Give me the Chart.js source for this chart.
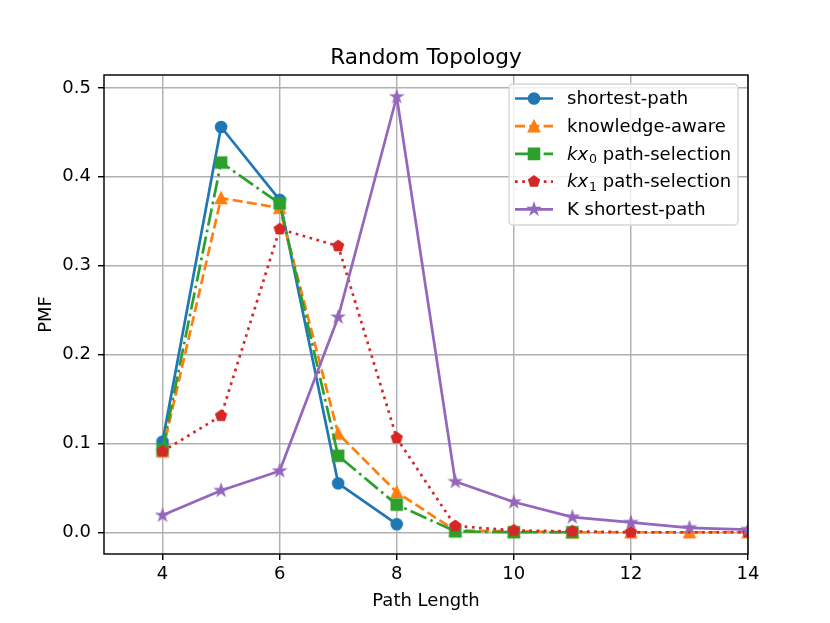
<!DOCTYPE html>
<html>
<head>
<meta charset="utf-8">
<title>Random Topology</title>
<script src="https://cdn.jsdelivr.net/npm/chart.js@4.4.1/dist/chart.umd.min.js"></script>
<style>
  html, body { margin: 0; padding: 0; background: #fff; }
  #chart { display: block; }
</style>
</head>
<body>
<canvas id="chart" width="830" height="623"></canvas>
<script>
// Values
var pathLengths = [4, 5, 6, 7, 8, 9, 10, 11, 12, 13, 14];
var shortestPath = [0.102, 0.456, 0.374, 0.055, 0.009];
var knowledgeAware = [0.091, 0.376, 0.365, 0.111, 0.045, 0.002, 0.001, 0.0, 0.0, 0.0, 0.0];
var kx0Selection = [0.093, 0.416, 0.370, 0.086, 0.031, 0.001, 0.0, 0.0];
var kx1Lengths = [4, 5, 6, 7, 8, 9, 10, 11, 12, 14];
var kx1Selection = [0.091, 0.131, 0.341, 0.322, 0.106, 0.007, 0.002, 0.001, 0.0, 0.0];
var kShortestPath = [0.019, 0.047, 0.069, 0.242, 0.490, 0.057, 0.034, 0.017, 0.011, 0.005, 0.003];
var xTicks = [4, 6, 8, 10, 12, 14];
var yTicks = [0, 0.1, 0.2, 0.3, 0.4, 0.5];

var FONT = "'DejaVu Sans', 'Liberation Sans', sans-serif";
var MS = 10.8;   // marker size, px
var LW = 2.7;    // line width, px

function pairs(xs, ys) {
  return ys.map(function (v, i) { return { x: xs[i], y: v }; });
}

// marker shapes, drawn like matplotlib's o ^ s p *
function markerPath(ctx, shape, cx, cy) {
  var r = MS / 2;
  ctx.beginPath();
  if (shape === "circle") {
    ctx.arc(cx, cy, r, 0, Math.PI * 2);
  } else if (shape === "triangle") {
    ctx.moveTo(cx, cy - r);
    ctx.lineTo(cx - r, cy + r);
    ctx.lineTo(cx + r, cy + r);
    ctx.closePath();
  } else if (shape === "square") {
    ctx.rect(cx - r, cy - r, MS, MS);
  } else if (shape === "pentagon") {
    for (var i = 0; i < 5; i++) {
      var a = -Math.PI / 2 + i * 2 * Math.PI / 5;
      ctx.lineTo(cx + r * Math.cos(a), cy + r * Math.sin(a));
    }
    ctx.closePath();
  } else if (shape === "star") {
    for (var j = 0; j < 10; j++) {
      var b = -Math.PI / 2 + j * Math.PI / 5;
      var rr = j % 2 === 0 ? r : r * 0.381966;
      ctx.lineTo(cx + rr * Math.cos(b), cy + rr * Math.sin(b));
    }
    ctx.closePath();
  }
}

function drawMarker(ctx, shape, cx, cy, color) {
  ctx.save();
  markerPath(ctx, shape, cx, cy);
  ctx.fillStyle = color;
  ctx.fill();
  ctx.lineWidth = 1.8;
  ctx.lineJoin = "miter";
  ctx.strokeStyle = color;
  ctx.stroke();
  ctx.restore();
}

function markerImage(shape, color) {
  var c = document.createElement("canvas");
  c.width = 20;
  c.height = 20;
  drawMarker(c.getContext("2d"), shape, 10, 10, color);
  return c;
}

var seriesList = [
  { label: "shortest-path", xs: pathLengths, ys: shortestPath, color: "#1f77b4", shape: "circle", dash: [] },
  { label: "knowledge-aware", xs: pathLengths, ys: knowledgeAware, color: "#ff7f0e", shape: "triangle", dash: [10, 4.3] },
  { label: "kx0", xs: pathLengths, ys: kx0Selection, color: "#2ca02c", shape: "square", dash: [17.3, 4.3, 2.7, 4.3] },
  { label: "kx1", xs: kx1Lengths, ys: kx1Selection, color: "#d62728", shape: "pentagon", dash: [2.7, 4.5] },
  { label: "K shortest-path", xs: pathLengths, ys: kShortestPath, color: "#9467bd", shape: "star", dash: [] }
];

var datasets = seriesList.map(function (s, i) {
  return {
    label: s.label,
    data: pairs(s.xs, s.ys),
    borderColor: s.color,
    backgroundColor: s.color,
    borderWidth: LW,
    borderDash: s.dash,
    borderCapStyle: "butt",
    borderJoinStyle: "round",
    pointStyle: markerImage(s.shape, s.color),
    pointRadius: 6,
    pointHoverRadius: 6,
    tension: 0,
    clip: 0,
    order: seriesList.length - i
  };
});

// axes frame, title, axis labels and the legend
var decor = {
  id: "decor",
  afterDatasetsDraw: function (chart) {
    var ctx = chart.ctx;
    var a = chart.chartArea;
    ctx.save();
    ctx.strokeStyle = "#000";
    ctx.lineWidth = 1.44;
    ctx.strokeRect(a.left, a.top, a.right - a.left, a.bottom - a.top);

    ctx.fillStyle = "#000";
    ctx.textAlign = "center";
    ctx.textBaseline = "alphabetic";
    ctx.font = "21.6px " + FONT;
    ctx.fillText("Random Topology", (a.left + a.right) / 2, 63.5);
    ctx.font = "18px " + FONT;
    ctx.fillText("Path Length", (a.left + a.right) / 2, 606);
    ctx.translate(51, (a.top + a.bottom) / 2);
    ctx.rotate(-Math.PI / 2);
    ctx.fillText("PMF", 0, 0);
    ctx.restore();

    // legend
    var bx = 509, by = 84, bw = 229, bh = 141;
    ctx.save();
    ctx.beginPath();
    ctx.roundRect(bx, by, bw, bh, 4);
    ctx.fillStyle = "rgba(255,255,255,0.8)";
    ctx.fill();
    ctx.strokeStyle = "#d6d6d6";
    ctx.lineWidth = 1.44;
    ctx.stroke();
    seriesList.forEach(function (s, i) {
      var y = 98.5 + i * 27.7;
      ctx.save();
      ctx.beginPath();
      ctx.moveTo(515, y);
      ctx.lineTo(553, y);
      ctx.strokeStyle = s.color;
      ctx.lineWidth = LW;
      ctx.lineCap = "butt";
      ctx.setLineDash(s.dash);
      ctx.stroke();
      ctx.restore();
      drawMarker(ctx, s.shape, 534, y, s.color);

      ctx.fillStyle = "#000";
      ctx.textAlign = "left";
      ctx.textBaseline = "middle";
      var tx = 567;
      var ty = y + 1;
      if (s.label === "kx0" || s.label === "kx1") {
        ctx.font = "italic 18px " + FONT;
        ctx.fillText("kx", tx, ty);
        tx += ctx.measureText("kx").width;
        ctx.font = "12.6px " + FONT;
        ctx.fillText(s.label.slice(2), tx + 1, ty + 5);
        tx += ctx.measureText(s.label.slice(2)).width + 1;
        ctx.font = "18px " + FONT;
        ctx.fillText(" path-selection", tx, ty);
      } else {
        ctx.font = "18px " + FONT;
        ctx.fillText(s.label, tx, ty);
      }
    });
    ctx.restore();
  }
};

new Chart(document.getElementById("chart"), {
  type: "line",
  data: { datasets: datasets },
  options: {
    responsive: false,
    animation: false,
    events: [],
    layout: { padding: { top: 75, right: 82, left: 0, bottom: 0 } },
    plugins: {
      legend: { display: false },
      title: { display: false },
      tooltip: { enabled: false }
    },
    scales: {
      x: {
        type: "linear",
        min: 3,
        max: 14,
        afterBuildTicks: function (scale) {
          scale.ticks = xTicks.map(function (v) { return { value: v }; });
        },
        afterFit: function (scale) { scale.height = 69; },
        grid: { color: "#b0b0b0", lineWidth: 1.44, tickColor: "#000", tickLength: 6, tickWidth: 1.44 },
        border: { display: false },
        ticks: {
          color: "#000",
          font: { family: FONT, size: 18 },
          padding: 4,
          maxRotation: 0,
          callback: function (v) { return String(v); }
        }
      },
      y: {
        type: "linear",
        min: -0.0245,
        max: 0.5145,
        afterBuildTicks: function (scale) {
          scale.ticks = yTicks.map(function (v) { return { value: v }; });
        },
        afterFit: function (scale) { scale.width = 104; },
        grid: { color: "#b0b0b0", lineWidth: 1.44, tickColor: "#000", tickLength: 6, tickWidth: 1.44 },
        border: { display: false },
        ticks: {
          color: "#000",
          font: { family: FONT, size: 18 },
          padding: 7,
          callback: function (v) { return v.toFixed(1); }
        }
      }
    }
  },
  plugins: [decor]
});
</script>
</body>
</html>
